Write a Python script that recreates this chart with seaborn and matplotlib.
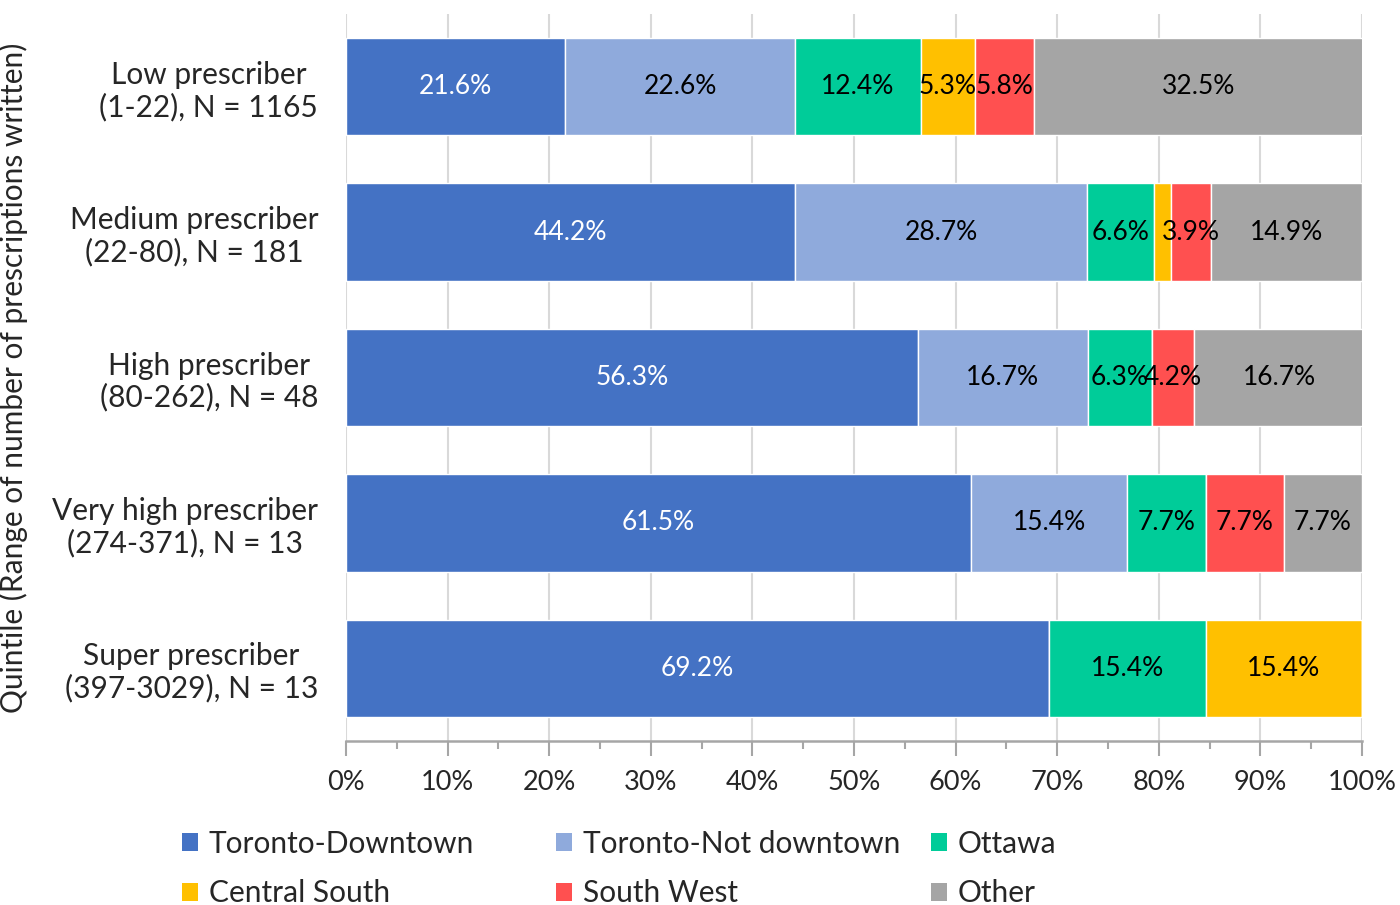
import matplotlib
matplotlib.use("Agg")
import matplotlib.pyplot as plt
from matplotlib.patches import Patch
from matplotlib.ticker import MultipleLocator, PercentFormatter
import numpy as np
import pandas as pd
import seaborn as sns

# Prescriber quintiles (rows, top to bottom)
quintiles = [
    "Low prescriber\n(1-22), N = 1165",
    "Medium prescriber\n(22-80), N = 181",
    "High prescriber\n(80-262), N = 48",
    "Very high prescriber\n(274-371), N = 13",
    "Super prescriber\n(397-3029), N = 13",
]

# Share of prescribers by region (%)
regions = ["Toronto-Downtown", "Toronto-Not downtown", "Ottawa",
           "Central South", "South West", "Other"]
toronto_downtown = [21.6, 44.2, 56.3, 61.5, 69.2]
toronto_not_downtown = [22.6, 28.7, 16.7, 15.4, 0.0]
ottawa = [12.4, 6.6, 6.3, 7.7, 15.4]
central_south = [5.3, 1.7, 0.0, 0.0, 15.4]
south_west = [5.8, 3.9, 4.2, 7.7, 0.0]
other = [32.5, 14.9, 16.7, 7.7, 0.0]

series = [toronto_downtown, toronto_not_downtown, ottawa,
          central_south, south_west, other]
colors = ["#4472C4", "#8FAADC", "#00CC99", "#FFC000", "#FF5050", "#A5A5A5"]
text_colors = ["white", "black", "black", "black", "black", "black"]
# segments too narrow to carry a label
min_label = 2.0

sns.set_style("white")
plt.rcParams["font.family"] = ["Lato", "DejaVu Sans"]

fig = plt.figure(figsize=(14, 9.05), dpi=100)
ax = fig.add_axes([0.2471, 0.1812, 0.7258, 0.8033])

left = np.zeros(len(quintiles))
for name, vals, col, tcol in zip(regions, series, colors, text_colors):
    df = pd.DataFrame({"quintile": quintiles, "share": vals})
    sns.barplot(data=df, x="share", y="quintile", orient="h", left=left,
                color=col, saturation=1, width=0.67, ax=ax, zorder=3)
    for i, v in enumerate(vals):
        if v >= min_label:
            ax.text(left[i] + v / 2, i, f"{v:.1f}%", ha="center", va="center",
                    fontsize=19, color=tcol, zorder=5)
    left = left + np.array(vals)

ax.set_xlim(0, 100)
ax.set_ylim(4.5, -0.5)
ax.xaxis.set_major_locator(MultipleLocator(10))
ax.xaxis.set_minor_locator(MultipleLocator(5))
ax.xaxis.set_major_formatter(PercentFormatter(decimals=0))
ax.grid(axis="x", which="major", color="#D9D9D9", linewidth=1.5, zorder=0)
ax.set_axisbelow(True)

for s in ["top", "right", "left"]:
    ax.spines[s].set_visible(False)
ax.spines["bottom"].set_color("#A6A6A6")
ax.spines["bottom"].set_linewidth(1.8)

ax.tick_params(axis="x", which="major", direction="out", length=11, width=1.5,
               color="#A6A6A6", labelsize=19.5, pad=10, bottom=True)
ax.tick_params(axis="x", which="minor", direction="out", length=6, width=1.5,
               color="#A6A6A6", bottom=True)
ax.tick_params(axis="y", length=0, labelsize=21.5, pad=20)
for lbl in ax.get_yticklabels():
    lbl.set_multialignment("center")
    lbl.set_linespacing(1.15)

ax.set_xlabel("")
ax.set_ylabel("Quintile (Range of number of prescriptions written)", fontsize=21.5,
              labelpad=0)
ax.yaxis.set_label_coords(-0.313, 0.5)

# legend laid out in three columns of two entries
col_x = [0.130, 0.397, 0.665]
for c, xpos in enumerate(col_x):
    idx = [c, c + 3]
    handles = [Patch(facecolor=colors[k], edgecolor="none") for k in idx]
    labels = [regions[k] for k in idx]
    fig.legend(handles, labels, loc="upper left", bbox_to_anchor=(xpos, 0.083),
               bbox_transform=fig.transFigure, frameon=False, fontsize=21.5,
               handlelength=0.55, handleheight=0.55, handletextpad=0.35,
               labelspacing=0.72, borderaxespad=0, borderpad=0)

fig.savefig("out.png", dpi=100)
